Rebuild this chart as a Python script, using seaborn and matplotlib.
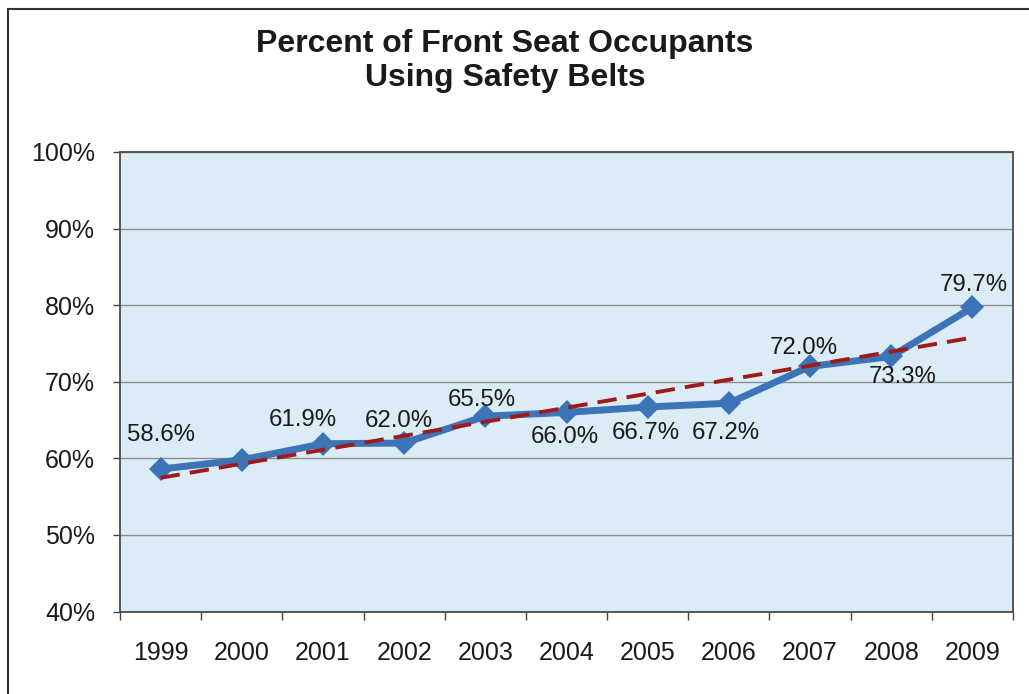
import numpy as np
import pandas as pd
import matplotlib
matplotlib.use("Agg")
import matplotlib.pyplot as plt
import matplotlib.patches as mpatches
from matplotlib.ticker import FixedLocator, PercentFormatter
import seaborn as sns

# ---- data ----
years = ["1999", "2000", "2001", "2002", "2003", "2004", "2005", "2006", "2007", "2008", "2009"]
belt_use = [58.6, 59.8, 61.9, 62.0, 65.5, 66.0, 66.7, 67.2, 72.0, 73.3, 79.7]
point_labels = ["58.6%", None, "61.9%", "62.0%", "65.5%", "66.0%", "66.7%", "67.2%", "72.0%", "73.3%", "79.7%"]
y_ticks = [40, 50, 60, 70, 80, 90, 100]
title = "Percent of Front Seat Occupants\nUsing Safety Belts"

# label offsets (pixels, dx, dy up) - styling only
label_offsets = [(0, 34), (0, 0), (-20, 24), (-5, 22), (-4, 16), (-2, -25),
                 (-2, -26), (-3, -30), (-6, 18), (11, -21), (1, 22)]

sns.set_theme(style="white")
plt.rcParams["font.family"] = ["Liberation Sans", "DejaVu Sans"]

W, H = 1029, 694
fig = plt.figure(figsize=(W / 100, H / 100), dpi=100)
fig.patch.set_facecolor("white")
ax = fig.add_axes([120 / W, 1 - 611.5 / H, (1013 - 120) / W, (611.5 - 152) / H])

df = pd.DataFrame({"pos": np.arange(len(years)), "year": years, "value": belt_use})

ax.set_facecolor("#dbecf6")

sns.lineplot(data=df, x="pos", y="value", ax=ax, color="#3d73b7", linewidth=5.0,
             marker="D", markersize=12, markeredgewidth=0, zorder=3)
sns.regplot(data=df, x="pos", y="value", ax=ax, scatter=False, ci=None, truncate=True,
            line_kws=dict(color="#9e1b1b", linewidth=2.8, linestyle=(0, (5, 2.6)), zorder=4))

px = 0.72
for i, (lab, (dx, dy)) in enumerate(zip(point_labels, label_offsets)):
    if lab is None:
        continue
    ax.annotate(lab, (i, belt_use[i]), xytext=(dx * px, dy * px), textcoords="offset points",
                ha="center", va="center", fontsize=17.3, color="#1a1a1a", zorder=5)

ax.set_xlim(-0.5, len(years) - 0.5)
ax.set_ylim(40, 100)
ax.yaxis.set_major_locator(FixedLocator(y_ticks))
ax.yaxis.set_major_formatter(PercentFormatter(decimals=0))
ax.set_xticks(np.arange(len(years)))
ax.set_xticklabels(years)
ax.xaxis.set_minor_locator(FixedLocator(np.arange(len(years) + 1) - 0.5))

ax.grid(axis="y", color="#8c8c8c", linewidth=1.0, zorder=1)
ax.set_axisbelow(True)
ax.tick_params(axis="x", which="major", length=0, pad=21, labelsize=18, labelcolor="#1a1a1a")
ax.tick_params(axis="x", which="minor", bottom=True, length=6, width=1.0, color="#444444", direction="out")
ax.tick_params(axis="y", which="major", left=True, length=5, width=1.0, color="#444444",
               direction="out", pad=13, labelsize=18, labelcolor="#1a1a1a")
ax.set_xlabel("")
ax.set_ylabel("")
for s in ax.spines.values():
    s.set_visible(True)
    s.set_color("#4a4a4a")
    s.set_linewidth(1.3)

fig.text(505 / W, 1 - 61 / H, title, ha="center", va="center", fontsize=23, fontweight="bold",
         color="#1a1a1a", linespacing=1.17)

# outer frame
frame = mpatches.Rectangle((8 / W, -0.1), 1.2, (694 - 9) / H + 0.1, transform=fig.transFigure,
                           fill=False, edgecolor="#333333", linewidth=1.5, clip_on=False)
fig.patches.append(frame)

fig.savefig("out.png", dpi=100)
